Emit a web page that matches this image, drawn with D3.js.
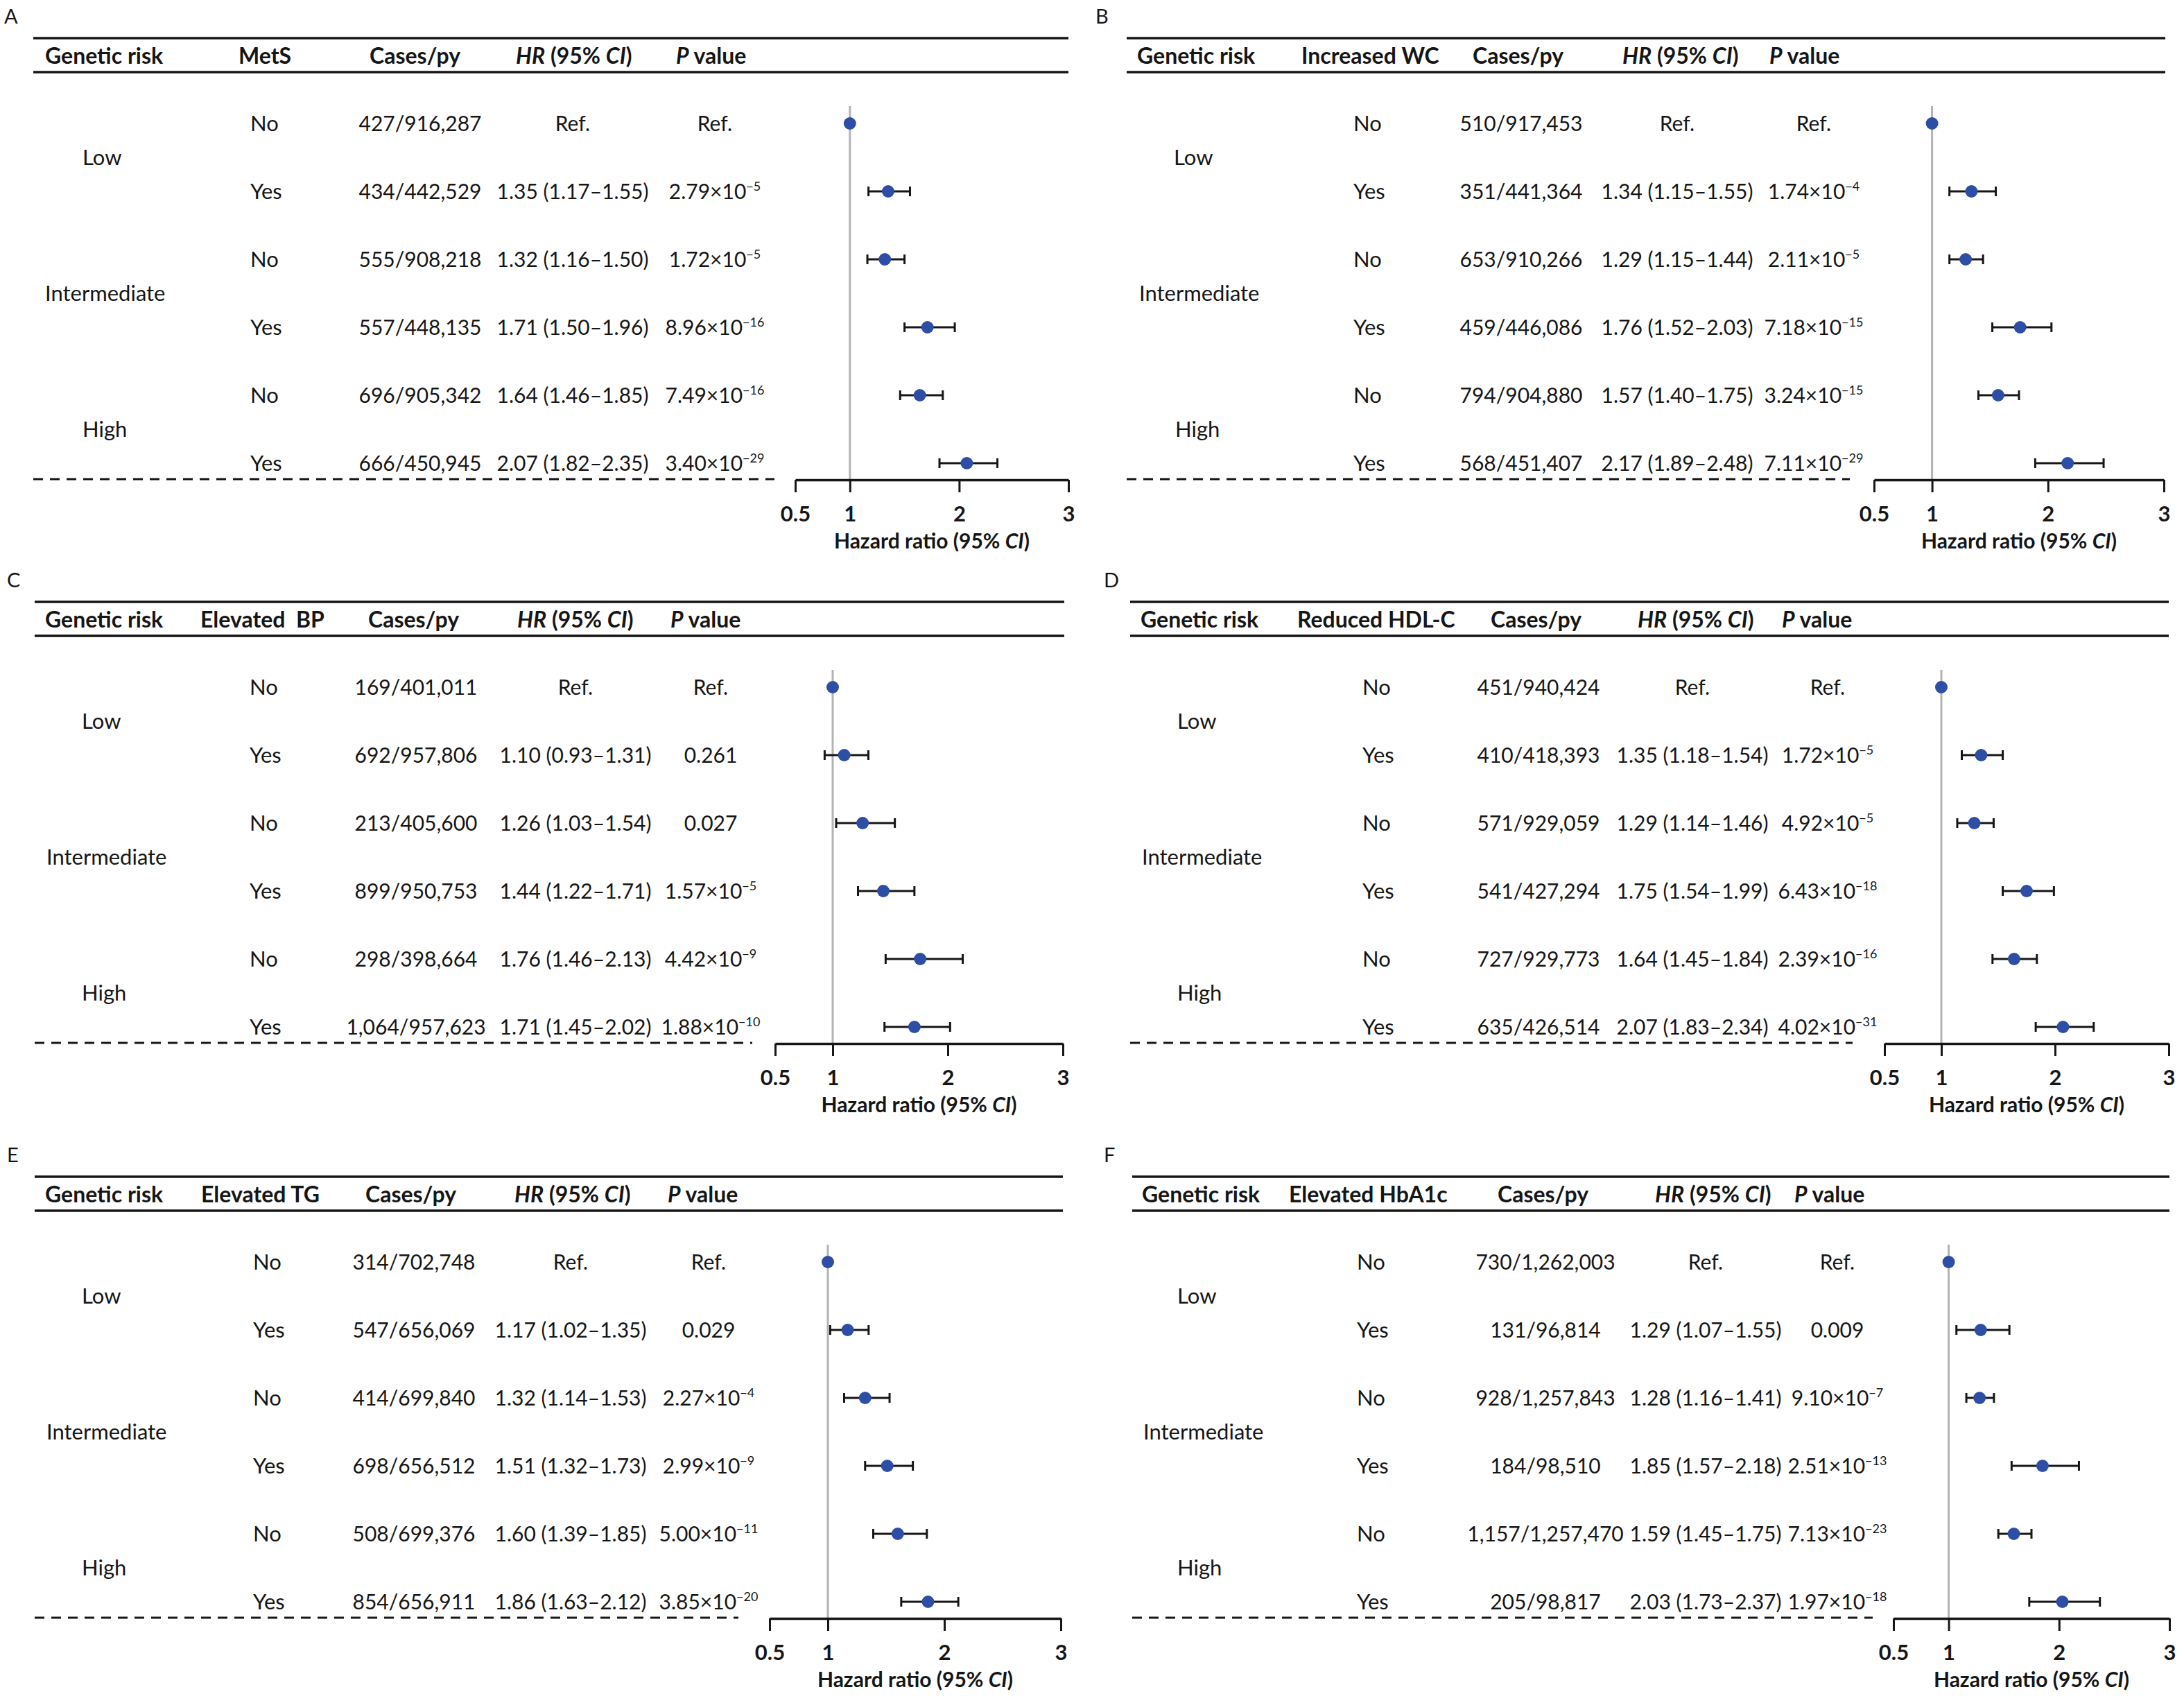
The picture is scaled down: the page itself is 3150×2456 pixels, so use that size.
<!DOCTYPE html>
<html>
<head>
<meta charset="utf-8">
<script src="https://cdn.jsdelivr.net/npm/d3@7"></script>
<style>
  body { margin: 0; background: #fff; }
  text { font-family: Lato, "Open Sans", sans-serif; fill: #161616; }
  .axis text { font-weight: bold; font-size: 31px; }
</style>
</head>
<body>
<svg id="fig" width="3150" height="2456"></svg>
<script>
/// DATA ////////////////////////////////////////////////////////////////////////////////

var groups = ["Low", "Intermediate", "High"];
var exposure = ["No", "Yes", "No", "Yes", "No", "Yes"];
var xTicks = [0.5, 1, 2, 3];

// A - MetS
var metsCases = ["427/916,287", "434/442,529", "555/908,218", "557/448,135", "696/905,342", "666/450,945"];
var metsHR = [1, 1.35, 1.32, 1.71, 1.64, 2.07];
var metsLo = [1, 1.17, 1.16, 1.50, 1.46, 1.82];
var metsHi = [1, 1.55, 1.50, 1.96, 1.85, 2.35];
var metsP  = ["Ref.", "2.79×10^−5", "1.72×10^−5", "8.96×10^−16", "7.49×10^−16", "3.40×10^−29"];

// B - Increased WC
var wcCases = ["510/917,453", "351/441,364", "653/910,266", "459/446,086", "794/904,880", "568/451,407"];
var wcHR = [1, 1.34, 1.29, 1.76, 1.57, 2.17];
var wcLo = [1, 1.15, 1.15, 1.52, 1.40, 1.89];
var wcHi = [1, 1.55, 1.44, 2.03, 1.75, 2.48];
var wcP  = ["Ref.", "1.74×10^−4", "2.11×10^−5", "7.18×10^−15", "3.24×10^−15", "7.11×10^−29"];

// C - Elevated BP
var bpCases = ["169/401,011", "692/957,806", "213/405,600", "899/950,753", "298/398,664", "1,064/957,623"];
var bpHR = [1, 1.10, 1.26, 1.44, 1.76, 1.71];
var bpLo = [1, 0.93, 1.03, 1.22, 1.46, 1.45];
var bpHi = [1, 1.31, 1.54, 1.71, 2.13, 2.02];
var bpP  = ["Ref.", "0.261", "0.027", "1.57×10^−5", "4.42×10^−9", "1.88×10^−10"];

// D - Reduced HDL-C
var hdlCases = ["451/940,424", "410/418,393", "571/929,059", "541/427,294", "727/929,773", "635/426,514"];
var hdlHR = [1, 1.35, 1.29, 1.75, 1.64, 2.07];
var hdlLo = [1, 1.18, 1.14, 1.54, 1.45, 1.83];
var hdlHi = [1, 1.54, 1.46, 1.99, 1.84, 2.34];
var hdlP  = ["Ref.", "1.72×10^−5", "4.92×10^−5", "6.43×10^−18", "2.39×10^−16", "4.02×10^−31"];

// E - Elevated TG
var tgCases = ["314/702,748", "547/656,069", "414/699,840", "698/656,512", "508/699,376", "854/656,911"];
var tgHR = [1, 1.17, 1.32, 1.51, 1.60, 1.86];
var tgLo = [1, 1.02, 1.14, 1.32, 1.39, 1.63];
var tgHi = [1, 1.35, 1.53, 1.73, 1.85, 2.12];
var tgP  = ["Ref.", "0.029", "2.27×10^−4", "2.99×10^−9", "5.00×10^−11", "3.85×10^−20"];

// F - Elevated HbA1c
var hbaCases = ["730/1,262,003", "131/96,814", "928/1,257,843", "184/98,510", "1,157/1,257,470", "205/98,817"];
var hbaHR = [1, 1.29, 1.28, 1.85, 1.59, 2.03];
var hbaLo = [1, 1.07, 1.16, 1.57, 1.45, 1.73];
var hbaHi = [1, 1.55, 1.41, 2.18, 1.75, 2.37];
var hbaP  = ["Ref.", "0.009", "9.10×10^−7", "2.51×10^−13", "7.13×10^−23", "1.97×10^−18"];

/// LAYOUT //////////////////////////////////////////////////////////////////////////////

var panels = [
  { letter: "A", factor: "MetS", cases: metsCases, hr: metsHR, lo: metsLo, hi: metsHi, p: metsP,
    top: 55, ruleX: [48, 1541], dashEnd: 1117, axisX: [1147, 1541], letterX: 6,
    head: [65, 344, 533, 744, 975], grp: [119, 65, 119], statX: 361, casesX: 606, hrX: 826, pX: 1031 },
  { letter: "B", factor: "Increased WC", cases: wcCases, hr: wcHR, lo: wcLo, hi: wcHi, p: wcP,
    top: 55, ruleX: [1625, 3123], dashEnd: 2668, axisX: [2703, 3121], letterX: 1580,
    head: [1640, 1877, 2124, 2340, 2552], grp: [1693, 1643, 1695], statX: 1952, casesX: 2194, hrX: 2419, pX: 2616 },
  { letter: "C", factor: "Elevated  BP", cases: bpCases, hr: bpHR, lo: bpLo, hi: bpHi, p: bpP,
    top: 868, ruleX: [50, 1535], dashEnd: 1085, axisX: [1118, 1533], letterX: 10,
    head: [65, 289, 531, 746, 967], grp: [118, 67, 118], statX: 360, casesX: 600, hrX: 830, pX: 1025 },
  { letter: "D", factor: "Reduced HDL-C", cases: hdlCases, hr: hdlHR, lo: hdlLo, hi: hdlHi, p: hdlP,
    top: 868, ruleX: [1630, 3128], dashEnd: 2672, axisX: [2718, 3128], letterX: 1592,
    head: [1645, 1871, 2150, 2362, 2570], grp: [1698, 1647, 1698], statX: 1965, casesX: 2219, hrX: 2441, pX: 2636 },
  { letter: "E", factor: "Elevated TG", cases: tgCases, hr: tgHR, lo: tgLo, hi: tgHi, p: tgP,
    top: 1697, ruleX: [50, 1533], dashEnd: 1065, axisX: [1110, 1530], letterX: 10,
    head: [65, 290, 527, 742, 963], grp: [118, 67, 118], statX: 365, casesX: 597, hrX: 823, pX: 1022 },
  { letter: "F", factor: "Elevated HbA1c", cases: hbaCases, hr: hbaHR, lo: hbaLo, hi: hbaHi, p: hbaP,
    top: 1697, ruleX: [1633, 3129], dashEnd: 2701, axisX: [2731, 3129], letterX: 1592,
    head: [1647, 1859, 2160, 2387, 2588], grp: [1698, 1649, 1698], statX: 1957, casesX: 2229, hrX: 2460, pX: 2650 }
];

var FONT = 30;
var DOT = "#2e4ea6";

var svg = d3.select("#fig");

/////////////////////////////////////////////////////////////////////////////////////////

function pValue(sel, s) {
  var parts = s.split("^");
  sel.append("tspan").text(parts[0]);
  if (parts.length > 1) {
    sel.append("tspan").attr("dy", -12).style("font-size", "18px").text(parts[1]);
  }
}

function drawPanel(pn) {
  var g = svg.append("g");
  var top = pn.top;

  var y = d3.scaleLinear().domain([0, 5]).range([top + 123, top + 123 + 490]);
  var x = d3.scaleLinear().domain([0.5, 3]).range(pn.axisX);
  var axisY = top + 637;

  // panel letter
  g.append("text").attr("x", pn.letterX).attr("y", top - 21)
    .style("font-size", "29px").text(pn.letter);

  // header rules
  [top, top + 49].forEach(function (ry) {
    g.append("line").attr("x1", pn.ruleX[0]).attr("x2", pn.ruleX[1])
      .attr("y1", ry).attr("y2", ry)
      .attr("stroke", "#161616").attr("stroke-width", 3.5);
  });

  // header text
  var hy = top + 37;
  var hdr = g.append("g").style("font-weight", "bold").style("font-size", "32px");
  hdr.append("text").attr("x", pn.head[0]).attr("y", hy).text("Genetic risk");
  hdr.append("text").attr("x", pn.head[1]).attr("y", hy).style("white-space", "pre").text(pn.factor);
  hdr.append("text").attr("x", pn.head[2]).attr("y", hy).text("Cases/py");
  var hrT = hdr.append("text").attr("x", pn.head[3]).attr("y", hy);
  hrT.append("tspan").style("font-style", "italic").text("HR");
  hrT.append("tspan").text(" (95% ");
  hrT.append("tspan").style("font-style", "italic").text("CI");
  hrT.append("tspan").text(")");
  var pT = hdr.append("text").attr("x", pn.head[4]).attr("y", hy);
  pT.append("tspan").style("font-style", "italic").text("P");
  pT.append("tspan").text(" value");

  // group labels
  groups.forEach(function (gr, i) {
    g.append("text").attr("x", pn.grp[i]).attr("y", (y(2 * i) + y(2 * i + 1)) / 2 + 11)
      .style("font-size", "31px").text(gr);
  });

  // rows
  var rows = d3.range(6).map(function (i) {
    return { i: i, st: exposure[i], cases: pn.cases[i], hr: pn.hr[i], lo: pn.lo[i], hi: pn.hi[i], p: pn.p[i] };
  });

  var row = g.selectAll(".row").data(rows).enter().append("g").attr("class", "row")
    .style("font-size", FONT + "px");

  row.append("text").attr("x", pn.statX).attr("y", function (d) { return y(d.i) + 11; })
    .style("font-size", "31px")
    .text(function (d) { return d.st; });
  row.append("text").attr("x", pn.casesX).attr("y", function (d) { return y(d.i) + 11; })
    .attr("text-anchor", "middle").text(function (d) { return d.cases; });
  row.append("text").attr("x", pn.hrX).attr("y", function (d) { return y(d.i) + 11; })
    .attr("text-anchor", "middle")
    .text(function (d) {
      if (d.i === 0) return "Ref.";
      return d.hr.toFixed(2) + " (" + d.lo.toFixed(2) + "\u2013" + d.hi.toFixed(2) + ")";
    });
  row.append("text").attr("x", pn.pX).attr("y", function (d) { return y(d.i) + 11; })
    .attr("text-anchor", "middle")
    .each(function (d) { pValue(d3.select(this), d.p); });

  // dashed separator
  g.append("line").attr("x1", pn.ruleX[0]).attr("x2", pn.dashEnd)
    .attr("y1", axisY - 1).attr("y2", axisY - 1)
    .attr("stroke", "#161616").attr("stroke-width", 3).attr("stroke-dasharray", "14,10");

  // reference line at HR = 1
  g.append("line").attr("x1", x(1)).attr("x2", x(1))
    .attr("y1", y(0) - 25).attr("y2", axisY)
    .attr("stroke", "#b3b3b3").attr("stroke-width", 3);

  // axis
  var ax = g.append("g").attr("class", "axis")
    .attr("transform", "translate(0," + axisY + ")")
    .call(d3.axisBottom(x).tickValues(xTicks).tickSize(18).tickSizeOuter(0).tickPadding(20)
      .tickFormat(function (d) { return String(d); }));
  ax.select(".domain").attr("stroke", "#161616").attr("stroke-width", 3.5);
  ax.selectAll(".tick line").attr("stroke", "#161616").attr("stroke-width", 3);
  ax.selectAll(".tick text").attr("fill", "#161616");

  var title = g.append("text").attr("x", (pn.axisX[0] + pn.axisX[1]) / 2).attr("y", axisY + 99)
    .attr("text-anchor", "middle").style("font-weight", "bold").style("font-size", "30px");
  title.append("tspan").text("Hazard ratio (95% ");
  title.append("tspan").style("font-style", "italic").text("CI");
  title.append("tspan").text(")");

  // error bars
  var ci = rows.filter(function (d) { return d.i > 0; });
  var bars = g.selectAll(".ci").data(ci).enter().append("g").attr("class", "ci")
    .attr("stroke", "#161616").attr("stroke-width", 3);
  bars.append("line")
    .attr("x1", function (d) { return x(d.lo); }).attr("x2", function (d) { return x(d.hi); })
    .attr("y1", function (d) { return y(d.i); }).attr("y2", function (d) { return y(d.i); });
  bars.append("line")
    .attr("x1", function (d) { return x(d.lo); }).attr("x2", function (d) { return x(d.lo); })
    .attr("y1", function (d) { return y(d.i) - 7; }).attr("y2", function (d) { return y(d.i) + 7; });
  bars.append("line")
    .attr("x1", function (d) { return x(d.hi); }).attr("x2", function (d) { return x(d.hi); })
    .attr("y1", function (d) { return y(d.i) - 7; }).attr("y2", function (d) { return y(d.i) + 7; });

  // points
  g.selectAll(".pt").data(rows).enter().append("circle").attr("class", "pt")
    .attr("cx", function (d) { return x(d.hr); })
    .attr("cy", function (d) { return y(d.i); })
    .attr("r", 9)
    .attr("fill", DOT);
}

panels.forEach(drawPanel);
</script>
</body>
</html>
